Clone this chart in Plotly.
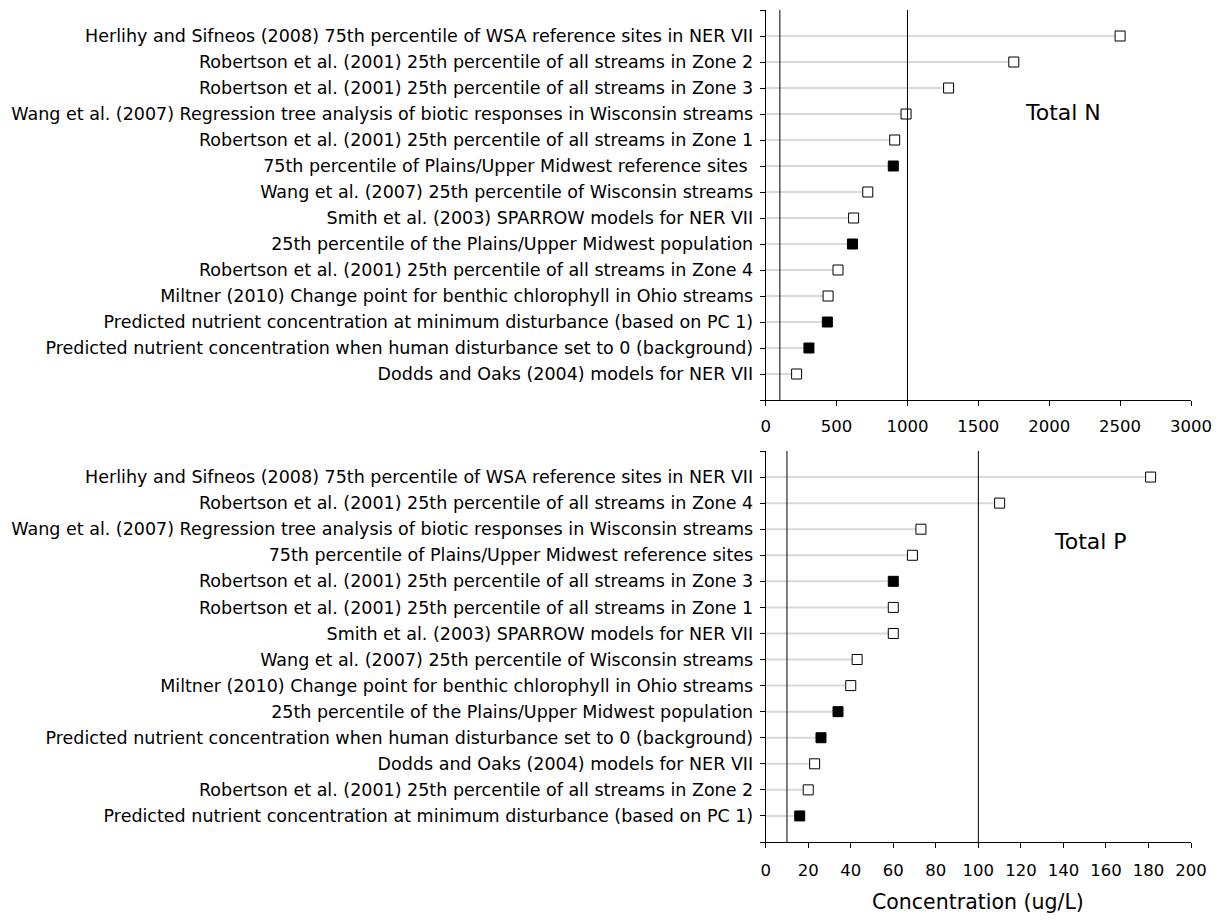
import plotly.graph_objects as go

# ---- Data ----
n_labels = [
    "Herlihy and Sifneos (2008) 75th percentile of WSA reference sites in NER VII",
    "Robertson et al. (2001) 25th percentile of all streams in Zone 2",
    "Robertson et al. (2001) 25th percentile of all streams in Zone 3",
    "Wang et al. (2007) Regression tree analysis of biotic responses in Wisconsin streams",
    "Robertson et al. (2001) 25th percentile of all streams in Zone 1",
    "75th percentile of Plains/Upper Midwest reference sites ",
    "Wang et al. (2007) 25th percentile of Wisconsin streams",
    "Smith et al. (2003) SPARROW models for NER VII",
    "25th percentile of the Plains/Upper Midwest population",
    "Robertson et al. (2001) 25th percentile of all streams in Zone 4",
    "Miltner (2010) Change point for benthic chlorophyll in Ohio streams",
    "Predicted nutrient concentration at minimum disturbance (based on PC 1)",
    "Predicted nutrient concentration when human disturbance set to 0 (background)",
    "Dodds and Oaks (2004) models for NER VII",
]
n_values = [2500, 1750, 1290, 990, 910, 900, 720, 620, 612, 510, 440, 435, 305, 218]
n_filled = [False, False, False, False, False, True, False, False, True, False, False, True, True, False]
n_reflines = [100, 1000]
n_ticks = [0, 500, 1000, 1500, 2000, 2500, 3000]

p_labels = [
    "Herlihy and Sifneos (2008) 75th percentile of WSA reference sites in NER VII",
    "Robertson et al. (2001) 25th percentile of all streams in Zone 4",
    "Wang et al. (2007) Regression tree analysis of biotic responses in Wisconsin streams",
    "75th percentile of Plains/Upper Midwest reference sites",
    "Robertson et al. (2001) 25th percentile of all streams in Zone 3",
    "Robertson et al. (2001) 25th percentile of all streams in Zone 1",
    "Smith et al. (2003) SPARROW models for NER VII",
    "Wang et al. (2007) 25th percentile of Wisconsin streams",
    "Miltner (2010) Change point for benthic chlorophyll in Ohio streams",
    "25th percentile of the Plains/Upper Midwest population",
    "Predicted nutrient concentration when human disturbance set to 0 (background)",
    "Dodds and Oaks (2004) models for NER VII",
    "Robertson et al. (2001) 25th percentile of all streams in Zone 2",
    "Predicted nutrient concentration at minimum disturbance (based on PC 1)",
]
p_values = [181, 110, 73, 69, 60, 60, 60, 43, 40, 34, 26, 23, 20, 16]
p_filled = [False, False, False, False, True, False, False, False, False, True, True, False, False, True]
p_reflines = [10, 100]
p_ticks = [0, 20, 40, 60, 80, 100, 120, 140, 160, 180, 200]

FONT = "DejaVu Sans"
OFF = 8  # page body margin
W, H = 1220 - 2 * OFF, 924 - 2 * OFF


def fx(px):
    return (px - OFF) / W


def fy(py):
    return 1 - (py - OFF) / H


fig = go.Figure()


def add_panel(labels, values, filled, reflines, xa, ya):
    n = len(labels)
    ypos = [n - i for i in range(n)]
    lx, ly = [], []
    for v, y in zip(values, ypos):
        lx += [0, v, None]
        ly += [y, y, None]
    fig.add_trace(go.Scatter(x=lx, y=ly, mode="lines", line=dict(color="#d9d9d9", width=2),
                             xaxis=xa, yaxis=ya, hoverinfo="skip", showlegend=False))
    fig.add_trace(go.Scatter(
        x=values, y=ypos, mode="markers",
        marker=dict(symbol="square", size=10,
                    color=["black" if f else "white" for f in filled],
                    line=dict(color="black", width=1)),
        xaxis=xa, yaxis=ya, showlegend=False))
    for r in reflines:
        fig.add_shape(type="line", x0=r, x1=r, y0=0, y1=n + 1,
                      xref=xa, yref=ya, line=dict(color="black", width=1))


add_panel(n_labels, n_values, n_filled, n_reflines, "x", "y")
add_panel(p_labels, p_values, p_filled, p_reflines, "x2", "y2")

axis_common = dict(showgrid=False, zeroline=False, showline=True, linecolor="black",
                   linewidth=1, ticks="outside", ticklen=5, tickcolor="black",
                   automargin=False, ticklabeloverflow="allow")
xfont = dict(family=FONT, size=16.5, color="black")
yfont = dict(family=FONT, size=17.5, color="black")

xdom = [fx(765.7), fx(1191)]
top_dom = [fy(400), fy(10)]
bot_dom = [fy(842), fy(451)]

fig.update_layout(
    width=W, height=H, margin=dict(l=0, r=0, t=0, b=0),
    plot_bgcolor="white", paper_bgcolor="white",
    xaxis=dict(domain=xdom, range=[0, 3000], tickvals=n_ticks, anchor="y",
               ticklabelstandoff=6, tickfont=xfont, **axis_common),
    yaxis=dict(domain=top_dom, range=[0, 15], tickvals=list(range(0, 16)),
               ticktext=[""] + n_labels[::-1] + [""], anchor="x",
               ticklabelstandoff=3, tickfont=yfont, **axis_common),
    xaxis2=dict(domain=xdom, range=[0, 200], tickvals=p_ticks, anchor="y2",
                ticklabelstandoff=8, tickfont=xfont, **axis_common),
    yaxis2=dict(domain=bot_dom, range=[0, 15], tickvals=list(range(0, 16)),
                ticktext=[""] + p_labels[::-1] + [""], anchor="x2",
                ticklabelstandoff=3, tickfont=yfont, **axis_common),
    annotations=[
        dict(text="Total N", x=2097, y=11.04, xref="x", yref="y", showarrow=False,
             font=dict(family=FONT, size=22, color="black")),
        dict(text="Total P", x=152.7, y=11.52, xref="x2", yref="y2", showarrow=False,
             font=dict(family=FONT, size=22, color="black")),
        dict(text="Concentration (ug/L)", x=100, y=0, xref="x2", yref="paper",
             xanchor="center", yanchor="bottom", showarrow=False,
             font=dict(family=FONT, size=20.5, color="black")),
    ],
)

fig.write_html("out.html")
